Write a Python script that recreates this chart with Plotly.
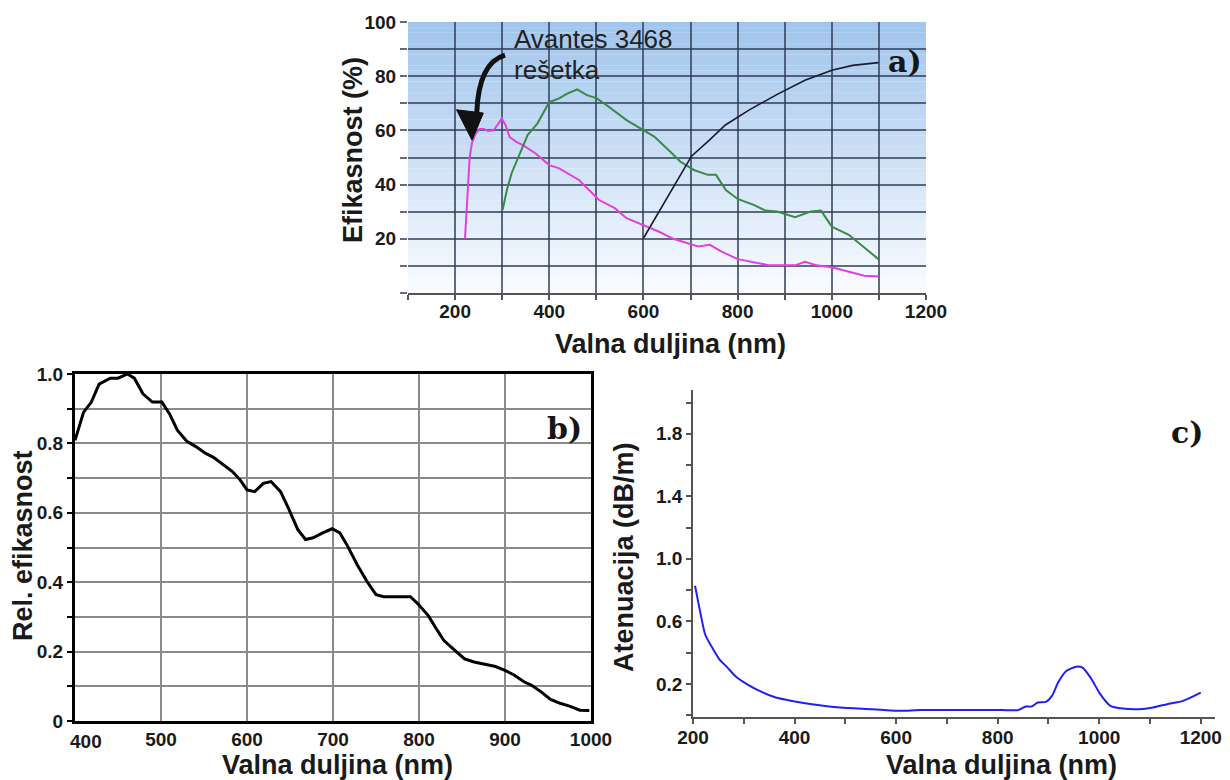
import plotly.graph_objects as go

W, H = 1230, 780

# ---------------- Panel a data ----------------
a_wl_magenta = [221, 226, 231, 236, 244, 252, 261, 270, 282, 292, 299, 307, 316, 330, 345, 371, 400, 421,
                463, 505, 539, 564, 602, 632, 665, 716, 741, 766, 800, 842, 868, 901, 922, 943, 968,
                1002, 1036, 1069, 1099]
a_eff_magenta = [20, 36, 50, 55.5, 58.9, 60.5, 60.5, 59.8, 60, 62.5, 64.4, 62, 57.5, 55.8, 54.5, 51.5, 47.2, 46,
                 41.7, 34.4, 31.3, 27.6, 24.8, 22.7, 19.9, 17.2, 17.8, 15.3, 12.5, 11, 10.2, 10.2, 10.2, 11.5, 10.2,
                 9.4, 8, 6.4, 6.1]
a_wl_green = [301, 310, 320, 337, 354, 375, 400, 421, 438, 459, 480, 501, 522, 564, 600, 623, 657, 678, 707,
              737, 754, 775, 800, 834, 859, 884, 922, 956, 977, 1000, 1036, 1061, 1099]
a_eff_green = [30.7, 38, 44.2, 51.5, 58.3, 62.6, 70.5, 71.8, 73.6, 75.1, 73, 71.8, 69.3, 63.8, 60.1, 57.7, 52.1,
               48.5, 45.4, 43.6, 43.6, 38, 34.7, 32.5, 30.4, 30.1, 28, 30.1, 30.4, 24.5, 21.5, 17.8, 12.5]
a_wl_black = [600, 631, 665, 702, 740, 774, 824, 884, 943, 1000, 1044, 1099]
a_eff_black = [20.2, 29.4, 39.3, 50.5, 56.4, 62, 67.5, 73.3, 78.5, 82.2, 84, 85]

a_xticks = list(range(100, 1201, 100))
a_xlabels = ["" if v % 200 else str(v) for v in a_xticks]
a_yticks = list(range(0, 101, 10))
a_ylabels = [str(v) if (v % 20 == 0 and v > 0) else "" for v in a_yticks]

# ---------------- Panel b data ----------------
b_wl = [400, 410, 419, 428, 441, 450, 461, 469, 479, 490, 501, 510, 519, 530, 541, 552, 561, 572, 583, 592,
        600, 609, 619, 628, 639, 648, 659, 668, 677, 688, 699, 708, 717, 728, 739, 750, 759, 779, 790, 799,
        811, 819, 829, 842, 853, 864, 875, 889, 900, 911, 922, 931, 942, 953, 964, 975, 987, 998]
b_eff = [0.809, 0.89, 0.919, 0.971, 0.988, 0.988, 1.0, 0.988, 0.943, 0.919, 0.919, 0.885, 0.838, 0.806, 0.79,
         0.771, 0.76, 0.74, 0.719, 0.695, 0.666, 0.661, 0.685, 0.69, 0.661, 0.614, 0.552, 0.523, 0.528, 0.542,
         0.554, 0.542, 0.504, 0.451, 0.404, 0.364, 0.358, 0.358, 0.358, 0.337, 0.303, 0.27, 0.232, 0.203,
         0.179, 0.17, 0.165, 0.157, 0.146, 0.132, 0.113, 0.103, 0.084, 0.062, 0.051, 0.043, 0.031, 0.03]
b_xticks = [400, 500, 600, 700, 800, 900, 1000]
b_xlabels = ["400", "500", "600", "700", "800", "900", "1000"]
b_yticks = [round(0.1 * i, 1) for i in range(11)]
b_ylabels = ["0", "", "0.2", "", "0.4", "", "0.6", "", "0.8", "", "1.0"]

# ---------------- Panel c data ----------------
c_wl = [204, 212, 224, 236, 252, 268, 283, 307, 331, 363, 395, 434, 490, 554, 601, 649, 728, 808, 840, 855,
        867, 879, 895, 907, 919, 935, 955, 967, 983, 1002, 1022, 1046, 1078, 1106, 1134, 1165, 1200]
c_att = [0.828, 0.696, 0.516, 0.442, 0.357, 0.304, 0.251, 0.197, 0.155, 0.113, 0.091, 0.07, 0.049, 0.038,
         0.028, 0.032, 0.032, 0.032, 0.032, 0.055, 0.055, 0.081, 0.085, 0.123, 0.208, 0.282, 0.31, 0.304,
         0.24, 0.134, 0.059, 0.042, 0.038, 0.049, 0.07, 0.091, 0.144]
c_xticks = list(range(200, 1201, 100))
c_xlabels = ["" if v % 200 else str(v) for v in c_xticks]
c_yticks = [round(0.2 * i, 1) for i in range(11)]
c_ylabels = ["", "0.2", "", "0.6", "", "1.0", "", "1.4", "", "1.8", ""]

SANS = "Liberation Sans, Arial, sans-serif"
SERIF = "DejaVu Serif, serif"
tickfont = dict(family=SANS, size=19, color="#1a1a1a", weight="bold")

fig = go.Figure()

fig.add_trace(go.Scatter(x=a_wl_magenta, y=a_eff_magenta, mode="lines",
                         line=dict(color="#e040e0", width=2), xaxis="x", yaxis="y"))
fig.add_trace(go.Scatter(x=a_wl_green, y=a_eff_green, mode="lines",
                         line=dict(color="#3a8a44", width=2), xaxis="x", yaxis="y"))
fig.add_trace(go.Scatter(x=a_wl_black, y=a_eff_black, mode="lines",
                         line=dict(color="#1a1a2e", width=1.6), xaxis="x", yaxis="y"))
fig.add_trace(go.Scatter(x=b_wl, y=b_eff, mode="lines",
                         line=dict(color="black", width=3), xaxis="x2", yaxis="y2"))
fig.add_trace(go.Scatter(x=c_wl, y=c_att, mode="lines",
                         line=dict(color="#2020f0", width=2, shape="spline", smoothing=0.6),
                         xaxis="x3", yaxis="y3"))

# gradient background for panel a
shapes = []
top = (160, 196, 236)
bot = (250, 252, 255)
n = 50
for i in range(n):
    y0 = 100 * i / n
    y1 = 100 * (i + 1) / n
    t = (y0 + y1) / 200
    col = tuple(round(bot[k] + (top[k] - bot[k]) * t) for k in range(3))
    shapes.append(dict(type="rect", xref="x", yref="y", x0=100, x1=1200, y0=y0, y1=y1 + 0.05,
                       fillcolor="rgb(%d,%d,%d)" % col, line=dict(width=0), layer="below"))

# curved arrow (annotation) in panel a
shapes.append(dict(type="path", xref="x", yref="y",
                   path="M 306,87.8 Q 250,85 246,66.5",
                   line=dict(color="#111", width=5), layer="above"))
shapes.append(dict(type="path", xref="x", yref="y",
                   path="M 203,67.6 L 260,66.4 L 236,56.4 Z",
                   fillcolor="#111", line=dict(color="#111", width=1), layer="above"))

def px(x):
    return x / W

def py(y):
    return 1 - y / H

annotations = [
    dict(text="Avantes 3468", x=px(512), y=py(39), xref="paper", yref="paper", xanchor="left",
         yanchor="middle", showarrow=False, font=dict(family=SANS, size=26, color="#222")),
    dict(text="rešetka", x=px(512), y=py(70), xref="paper", yref="paper", xanchor="left",
         yanchor="middle", showarrow=False, font=dict(family=SANS, size=26, color="#222")),
    dict(text="<b>a)</b>", x=px(905), y=py(62), xref="paper", yref="paper", xanchor="center",
         yanchor="middle", showarrow=False, font=dict(family=SERIF, size=30, color="#151515")),
    dict(text="<b>b)</b>", x=px(564), y=py(428), xref="paper", yref="paper", xanchor="center",
         yanchor="middle", showarrow=False, font=dict(family=SERIF, size=30, color="#151515")),
    dict(text="<b>c)</b>", x=px(1187), y=py(432), xref="paper", yref="paper", xanchor="center",
         yanchor="middle", showarrow=False, font=dict(family=SERIF, size=30, color="#151515")),
    # first tick label of panel b sits slightly right of its tick (as in the original)
    dict(text=b_xlabels[0], x=px(86), y=py(741), xref="paper", yref="paper",
         xanchor="center", yanchor="middle", showarrow=False, font=tickfont),
    # axis titles
    dict(text="<b>Valna duljina (nm)</b>", x=px(670), y=py(344), xref="paper", yref="paper",
         xanchor="center", yanchor="middle", showarrow=False, font=dict(family=SANS, size=27, color="#1a1a1a")),
    dict(text="<b>Efikasnost (%)</b>", x=px(353), y=py(150), xref="paper", yref="paper", textangle=-90,
         xanchor="center", yanchor="middle", showarrow=False, font=dict(family=SANS, size=27, color="#1a1a1a")),
    dict(text="<b>Valna duljina (nm)</b>", x=px(337), y=py(765), xref="paper", yref="paper",
         xanchor="center", yanchor="middle", showarrow=False, font=dict(family=SANS, size=27, color="#1a1a1a")),
    dict(text="<b>Rel. efikasnost</b>", x=px(23), y=py(546), xref="paper", yref="paper", textangle=-90,
         xanchor="center", yanchor="middle", showarrow=False, font=dict(family=SANS, size=27, color="#1a1a1a")),
    dict(text="<b>Valna duljina (nm)</b>", x=px(1001), y=py(765), xref="paper", yref="paper",
         xanchor="center", yanchor="middle", showarrow=False, font=dict(family=SANS, size=27, color="#1a1a1a")),
    dict(text="<b>Atenuacija (dB/m)</b>", x=px(624), y=py(557), xref="paper", yref="paper", textangle=-90,
         xanchor="center", yanchor="middle", showarrow=False, font=dict(family=SANS, size=27, color="#1a1a1a")),
]

gridA = "rgba(45,60,85,0.75)"
fig.update_layout(
    width=W, height=H, autosize=False,
    margin=dict(l=0, r=0, t=0, b=0, pad=0, autoexpand=False),
    paper_bgcolor="white", plot_bgcolor="rgba(0,0,0,0)",
    showlegend=False,
    shapes=shapes, annotations=annotations,
    xaxis=dict(domain=[px(408), px(926)], range=[100, 1200], anchor="y", automargin=False,
               tickmode="array", tickvals=a_xticks, ticktext=a_xlabels,
               showgrid=True, gridcolor=gridA, gridwidth=1.5,
               showline=True, linecolor="#555", linewidth=1.5,
               ticks="outside", ticklen=5, tickcolor="#555", tickwidth=1.5,
               tickfont=tickfont, ticklabelstandoff=-5, zeroline=False),
    yaxis=dict(domain=[py(293), py(22)], range=[0, 100], anchor="x", automargin=False,
               tickmode="array", tickvals=a_yticks, ticktext=a_ylabels,
               showgrid=True, gridcolor=gridA, gridwidth=1.5,
               showline=False, ticks="outside", ticklen=7, tickcolor=gridA, tickwidth=1.5,
               tickfont=tickfont, zeroline=False),
    xaxis2=dict(domain=[px(75), px(591)], range=[400, 1000], anchor="y2", automargin=False,
                tickmode="array", tickvals=b_xticks[1:], ticktext=b_xlabels[1:],
                showgrid=True, gridcolor="#8a8a8a", gridwidth=1.5,
                showline=True, mirror=True, linecolor="black", linewidth=3,
                ticks="", tickfont=tickfont, ticklabelstandoff=-1, zeroline=False),
    yaxis2=dict(domain=[py(721), py(374)], range=[0, 1], anchor="x2", automargin=False,
                tickmode="array", tickvals=b_yticks, ticktext=b_ylabels,
                showgrid=True, gridcolor="#8a8a8a", gridwidth=1.5,
                showline=True, mirror=True, linecolor="black", linewidth=3,
                ticks="outside", ticklen=5, tickcolor="black", tickwidth=1.5,
                tickfont=tickfont, zeroline=False),
    xaxis3=dict(domain=[px(693), px(1215)], range=[200, 1228], anchor="y3", automargin=False,
                tickmode="array", tickvals=c_xticks, ticktext=c_xlabels,
                showgrid=False, showline=True, linecolor="#555", linewidth=1.5,
                ticks="outside", ticklen=5, tickcolor="#555", tickwidth=1.5,
                tickfont=tickfont, ticklabelstandoff=-3, zeroline=False),
    yaxis3=dict(domain=[py(717), py(390)], range=[-0.012, 2.08], anchor="x3", automargin=False,
                tickmode="array", tickvals=c_yticks, ticktext=c_ylabels,
                showgrid=False, showline=True, linecolor="#555", linewidth=1.5,
                ticks="outside", ticklen=5, tickcolor="#555", tickwidth=1.5,
                tickfont=tickfont, zeroline=False),
)

fig.write_html("out.html", config={"displayModeBar": False},
               post_script="document.body.style.margin='0';document.body.style.overflow='hidden';")
